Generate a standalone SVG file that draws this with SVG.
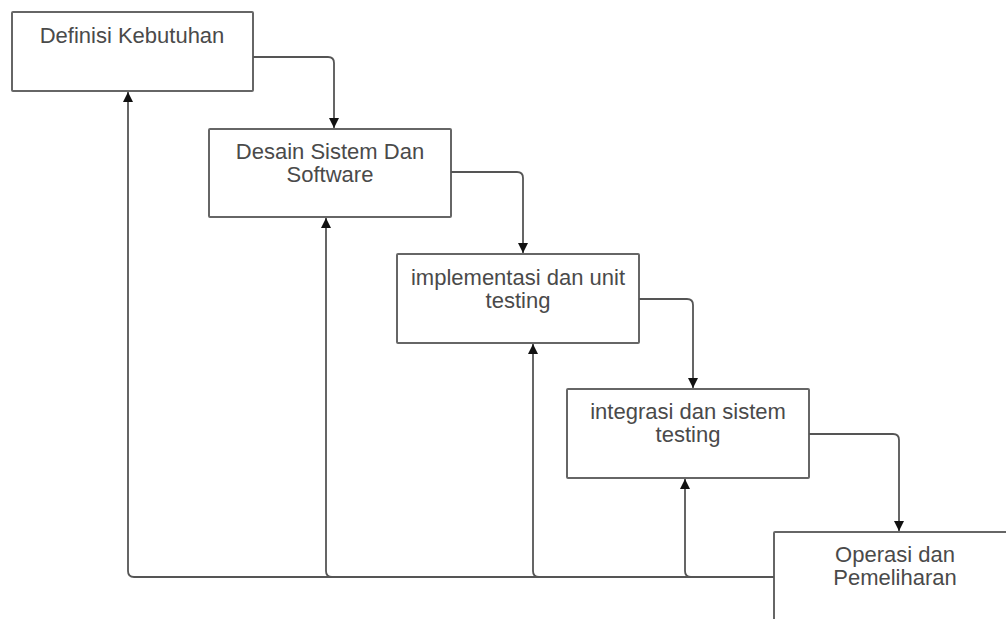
<svg xmlns="http://www.w3.org/2000/svg" width="1006" height="619" viewBox="0 0 1006 619">
<style>
.box{fill:#ffffff;stroke:#666666;stroke-width:2}
.lbl{font-family:"Liberation Sans",Arial,sans-serif;font-size:22px;fill:#4a4a4a;text-anchor:middle}
.con{fill:none;stroke:#555555;stroke-width:1.8}
</style>
<defs>
<marker id="arr" viewBox="0 0 10 10" refX="10" refY="5" markerWidth="10" markerHeight="10" markerUnits="userSpaceOnUse" orient="auto">
<path d="M0,0 L10,5 L0,10 Z" fill="#111111"/>
</marker>
</defs>
<rect width="1006" height="619" fill="#ffffff"/>
<g id="n1"><rect class="box" x="12" y="12" width="241" height="79" rx="1"/><text class="lbl" x="132" y="43">Definisi Kebutuhan</text></g>
<g id="n2"><rect class="box" x="209" y="129" width="242" height="88" rx="1"/><text class="lbl" x="330" y="159">Desain Sistem Dan</text><text class="lbl" x="330" y="182">Software</text></g>
<g id="n3"><rect class="box" x="397" y="254" width="242" height="89" rx="1"/><text class="lbl" x="518" y="285">implementasi dan unit</text><text class="lbl" x="518" y="308">testing</text></g>
<g id="n4"><rect class="box" x="567" y="389" width="242" height="89" rx="1"/><text class="lbl" x="688" y="419">integrasi dan sistem</text><text class="lbl" x="688" y="442">testing</text></g>
<g id="n5"><rect class="box" x="774" y="532" width="242" height="100" rx="1"/><text class="lbl" x="895" y="562">Operasi dan</text><text class="lbl" x="895" y="585">Pemeliharan</text></g>
<g id="connectors">
<path class="con" d="M253,57 H328 Q334,57 334,63 V128" marker-end="url(#arr)"/>
<path class="con" d="M451,172 H517 Q523,172 523,178 V253" marker-end="url(#arr)"/>
<path class="con" d="M639,299 H687 Q693,299 693,305 V388" marker-end="url(#arr)"/>
<path class="con" d="M809,434 H893 Q899,434 899,440 V531" marker-end="url(#arr)"/>
<path class="con" d="M774,577 H134 Q128,577 128,571 V92" marker-end="url(#arr)"/>
<path class="con" d="M774,577 H332 Q326,577 326,571 V218" marker-end="url(#arr)"/>
<path class="con" d="M774,577 H539 Q533,577 533,571 V344" marker-end="url(#arr)"/>
<path class="con" d="M774,577 H691 Q685,577 685,571 V479" marker-end="url(#arr)"/>
</g>
</svg>
